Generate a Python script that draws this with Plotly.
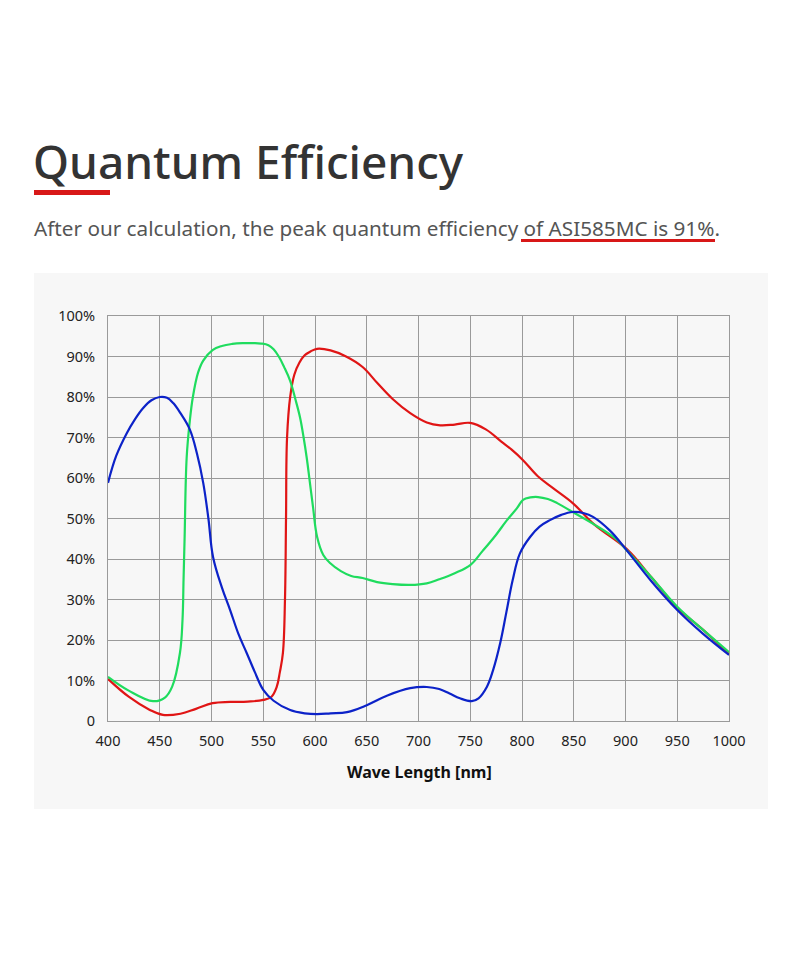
import plotly.graph_objects as go

# ---- data ----
red_x = [400,420,440,453,470,485,501,518,535,550,558,563,566,569,571,572,573,576,580,585,590,596,602,615,630,646,660,675,692,708,721,735,750,765,780,790,801,815,830,849,870,901,925,950,975,1000]
red_y = [10.4,6,2.8,1.5,1.8,3,4.4,4.7,4.8,5.2,6,8.4,12,16.8,30,50,70,80,85.5,88.5,90.3,91.3,91.9,91.5,90,87.4,83.5,79.5,76,73.7,73,73.2,73.6,72,69,67,64.4,60.5,57.5,53.8,48.5,42.5,35.5,28,22.5,16.5]

green_x = [400,420,443.5,455,462,469.5,472,473,474,476,479,482,487,492,501,510,520,530,540,548,555,560,565,570,576,581,585.5,589,592,595,598,602,608,614.5,625,635,646,660,675,692,708,720,735,750,762,775,785.5,795,801,808,815.5,825,834,849,870,892,901,925,950,975,1000]
green_y = [10.9,7.5,4.9,5.8,8.5,16.8,25,35,45,65,74,80,86,89,91.6,92.6,93.1,93.3,93.3,93.2,92.8,91.8,90,87.5,84,79.5,75,70,65,59,53,45.5,41,39,37,35.8,35.3,34.3,33.8,33.6,34,35,36.5,38.5,42,46,49.6,52.5,54.6,55.2,55.3,54.8,53.8,51.6,48.5,44.7,42.2,35.5,28.2,22.5,17]

blue_x = [400,408,418,426,434,442,450,457,463,470,479,486,492,497,501.5,510,518,526,534,542,550,560,576,590,602,615,631,650,670,692,708,720,730,740,751.5,758,766,772,779,785,791,798,808,817,827,838,849,860,868.6,885,901,925,950,975,1000]
blue_y = [58.8,65.5,71,74.5,77.3,79.2,80,79.8,78.5,76,72,66,58.8,50,40.5,33,27.4,21.5,16.8,12,7.7,5,2.7,1.9,1.7,1.9,2.2,3.9,6.3,8.1,8.4,7.9,6.8,5.6,4.9,5.6,8.4,12.5,19.3,27,34.8,41.4,45.5,48,49.6,50.9,51.6,51.3,50.4,47,42.2,34.5,27.4,21.5,16.3]

x_ticks = [400,450,500,550,600,650,700,750,800,850,900,950,1000]
y_ticks = [0,10,20,30,40,50,60,70,80,90,100]
y_ticktext = ["0","10%","20%","30%","40%","50%","60%","70%","80%","90%","100%"]

title_text = "Quantum Efficiency"
subtitle_text = "After our calculation, the peak quantum efficiency of ASI585MC is 91%."
xaxis_title = "Wave Length [nm]"

# ---- layout geometry (pixels, target screen coords) ----
OFF = 8  # page body margin
W, H = 800, 960
L, R, T, B = 108, 729, 316, 721
pw, ph = R - L, B - T

def px(x):
    return (x - L) / pw

def py(y):
    return (B - y) / ph

fig = go.Figure()
for xs, ys, c in [(red_x, red_y, "#e01515"), (green_x, green_y, "#1fdc5e"), (blue_x, blue_y, "#0c22c8")]:
    fig.add_trace(go.Scatter(x=xs, y=ys, mode="lines",
                             line=dict(color=c, width=2.2, shape="spline", smoothing=1.1),
                             hoverinfo="skip", showlegend=False))

grid_c = "#9a9a9a"
fig.update_layout(
    width=W, height=H,
    margin=dict(l=L - OFF, r=W - R + OFF, t=T - OFF, b=H - B + OFF, pad=0),
    paper_bgcolor="white", plot_bgcolor="rgba(0,0,0,0)",
    font=dict(family="Noto Sans", color="#222222"),
    xaxis=dict(range=[400, 1000], tickvals=x_ticks, showgrid=True, gridcolor=grid_c, gridwidth=1,
               showline=True, linecolor=grid_c, linewidth=1, mirror=True, zeroline=False,
               ticks="outside", ticklen=7, tickcolor="rgba(0,0,0,0)",
               tickfont=dict(size=14.5, color="#222222")),
    yaxis=dict(range=[0, 100], tickvals=y_ticks, ticktext=y_ticktext, showgrid=True,
               gridcolor=grid_c, gridwidth=1, showline=True, linecolor=grid_c, linewidth=1,
               mirror=True, zeroline=False, ticks="outside", ticklen=9,
               tickcolor="rgba(0,0,0,0)", tickfont=dict(size=14.5, color="#222222")),
    shapes=[
        dict(type="rect", xref="paper", yref="paper", x0=px(34), x1=px(768), y0=py(809), y1=py(273),
             fillcolor="#f7f7f7", line=dict(width=0), layer="below"),
        dict(type="rect", xref="paper", yref="paper", x0=px(34), x1=px(110), y0=py(195), y1=py(190),
             fillcolor="#d81818", line=dict(width=0)),
        dict(type="rect", xref="paper", yref="paper", x0=px(521), x1=px(715), y0=py(242), y1=py(239),
             fillcolor="#d81818", line=dict(width=0)),
    ],
    annotations=[
        dict(text=title_text, xref="paper", yref="paper", x=px(31), y=py(161), xanchor="left",
             yanchor="middle", showarrow=False,
             font=dict(size=46, color="#333333", family="Noto Sans", weight=500)),
        dict(text=subtitle_text, xref="paper", yref="paper", x=px(32), y=py(228), xanchor="left",
             yanchor="middle", showarrow=False, font=dict(size=20.7, color="#555555", family="Noto Sans")),
        dict(text="<b>" + xaxis_title + "</b>", xref="paper", yref="paper", x=px(419), y=py(772),
             xanchor="center", yanchor="middle", showarrow=False,
             font=dict(size=16, color="#111111", family="Noto Sans")),
    ],
)

fig.write_html("out.html")
